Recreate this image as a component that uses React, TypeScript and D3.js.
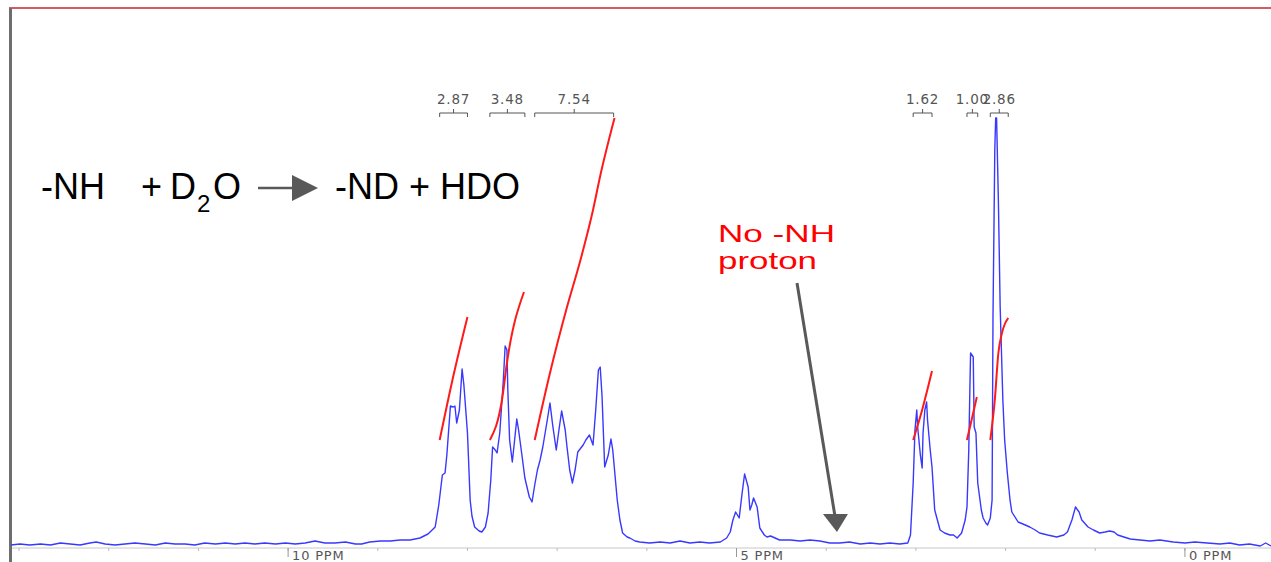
import * as d3 from 'd3';

const WIDTH = 1271;
const HEIGHT = 562;

// proton spectrum: [shift in ppm, intensity]
const spectrum: [number, number][] = [
  [13.09, 1], [12.99, 2], [12.88, 1], [12.76, 2], [12.65, 1], [12.54, 3], [12.43, 2], [12.32, 1],
  [12.21, 3], [12.14, 4], [12.04, 2], [11.93, 1], [11.82, 2], [11.71, 3], [11.59, 2], [11.48, 1],
  [11.37, 3], [11.26, 2], [11.15, 2], [11.04, 1], [10.93, 3], [10.81, 2], [10.7, 3], [10.59, 2],
  [10.48, 3], [10.37, 2], [10.26, 3], [10.14, 2], [10.03, 3], [9.92, 2], [9.81, 3], [9.7, 5],
  [9.59, 3], [9.48, 3], [9.36, 4], [9.25, 2], [9.18, 2], [9.09, 4], [8.97, 5], [8.86, 5],
  [8.75, 6], [8.64, 6], [8.53, 8], [8.44, 12], [8.36, 19],
  [8.32, 41], [8.28, 71], [8.25, 73], [8.23, 91], [8.19, 140], [8.16, 139], [8.14, 140], [8.12, 123],
  [8.09, 136], [8.06, 177], [8.04, 161], [8.0, 113], [7.97, 46], [7.95, 30], [7.92, 19], [7.87, 15],
  [7.84, 14], [7.8, 19], [7.77, 33], [7.74, 66], [7.72, 99], [7.69, 96], [7.67, 93], [7.64, 113],
  [7.6, 166], [7.58, 200], [7.56, 196], [7.55, 156], [7.53, 106], [7.5, 84], [7.48, 101], [7.45, 127],
  [7.43, 116], [7.39, 89], [7.36, 68], [7.31, 49], [7.28, 44], [7.25, 61], [7.22, 76], [7.19, 86],
  [7.16, 99], [7.11, 126], [7.08, 143], [7.05, 121], [7.01, 96], [6.98, 116], [6.95, 135], [6.91, 116],
  [6.89, 99], [6.86, 76], [6.83, 63], [6.8, 76], [6.77, 94], [6.71, 101], [6.68, 106], [6.64, 111],
  [6.62, 106], [6.6, 101], [6.57, 136], [6.54, 176], [6.52, 179], [6.5, 151], [6.47, 79], [6.43, 91],
  [6.4, 107], [6.38, 96], [6.33, 46], [6.3, 26], [6.27, 13], [6.22, 9], [6.19, 8], [6.13, 5],
  [6.08, 4], [5.97, 3], [5.85, 4], [5.74, 3], [5.63, 5], [5.52, 3], [5.41, 4], [5.3, 3],
  [5.18, 4], [5.11, 8], [5.07, 14], [5.04, 26], [5.01, 34], [4.97, 28], [4.94, 51], [4.91, 72],
  [4.87, 59], [4.85, 36], [4.83, 41], [4.81, 48], [4.77, 39], [4.74, 18], [4.69, 11], [4.66, 9],
  [4.62, 10], [4.57, 8], [4.52, 6], [4.4, 6], [4.29, 5], [4.18, 6], [4.07, 5], [3.96, 3],
  [3.85, 3], [3.74, 4], [3.62, 2], [3.51, 3], [3.4, 2], [3.29, 3], [3.18, 2], [3.09, 3],
  [3.06, 11], [3.03, 63], [3.01, 116], [2.99, 136], [2.98, 119], [2.95, 91], [2.93, 78], [2.92, 113],
  [2.9, 136], [2.88, 144], [2.87, 126], [2.84, 96], [2.82, 79], [2.79, 36], [2.73, 16], [2.68, 13],
  [2.62, 11], [2.58, 11], [2.54, 8], [2.49, 13], [2.45, 26], [2.43, 39], [2.41, 96], [2.4, 146],
  [2.39, 193], [2.36, 189], [2.35, 119], [2.33, 113], [2.31, 63], [2.27, 36], [2.25, 28], [2.22, 23],
  [2.2, 21], [2.17, 28], [2.15, 46], [2.14, 229], [2.12, 396], [2.11, 428], [2.1, 428], [2.08, 346],
  [2.06, 239], [2.03, 146], [2.01, 106], [1.98, 73], [1.95, 46], [1.93, 34], [1.86, 24], [1.78, 21],
  [1.73, 19], [1.67, 16], [1.62, 13], [1.53, 11], [1.43, 9], [1.35, 11], [1.31, 14], [1.26, 26],
  [1.22, 39], [1.18, 34], [1.15, 26], [1.08, 19], [1.02, 16], [0.95, 13], [0.89, 14], [0.84, 15],
  [0.79, 14], [0.75, 11], [0.68, 9], [0.61, 7], [0.5, 6], [0.39, 5], [0.28, 6], [0.13, 4],
  [0.0, 3], [-0.11, 4], [-0.25, 3], [-0.39, 2], [-0.5, 3], [-0.61, 1], [-0.72, 2], [-0.84, 0],
  [-0.9, 3], [-0.96, 0],
];

// integral traces (red), same units as the spectrum
const integralCurves: [number, number][][] = [
  [[8.31, 106], [8.16, 169], [8.0, 229]],
  [[7.75, 106], [7.61, 149], [7.56, 183], [7.37, 254]],
  [[7.25, 106], [7.08, 173], [6.89, 239], [6.74, 286], [6.6, 336], [6.52, 370], [6.36, 428]],
  [[3.03, 106], [2.93, 136], [2.82, 175]],
  [[2.43, 106], [2.32, 149]],
  [[2.17, 106], [2.12, 146], [2.08, 193], [2.04, 213], [1.97, 228]],
];
const integralRanges: [number, number][] = [
  [8.31, 8.0], [7.75, 7.36], [7.25, 6.37], [3.03, 2.82], [2.43, 2.31], [2.17, 1.97],
];
const integralValues = ['2.87', '3.48', '7.54', '1.62', '1.00', '2.86'];

const minorTicks = [13, 12, 11, 10, 9, 8, 7, 6, 5, 4, 3, 2, 1, 0];
const majorTicks = [10, 5, 0];
const tickLabels = ['10 PPM', '5 PPM', '0 PPM'];

export default function App() {
  const x = d3.scaleLinear().domain([13.09, -0.96]).range([11, WIDTH]);
  const y = d3.scaleLinear().domain([0, 538]).range([546, 8]);
  const line = d3.line<[number, number]>().x(d => x(d[0])).y(d => y(d[1]));
  const smooth = d3.line<[number, number]>().x(d => x(d[0])).y(d => y(d[1])).curve(d3.curveMonotoneX);

  const axisY = 548;
  const bracketY = 113;
  const tipX = x(3.88);

  return (
    <svg width={WIDTH} height={HEIGHT} style={{ position: 'absolute', left: 0, top: 0 }}
      fontFamily="'DejaVu Sans', sans-serif">
      <rect width={WIDTH} height={HEIGHT} fill="#fff" />
      {/* frame */}
      <line x1={9} x2={WIDTH} y1={8} y2={8} stroke="#c0272d" strokeWidth={1.4} />
      <rect x={9} y={8} width={3} height={HEIGHT - 8} fill="#6e6e6e" />

      {/* axis */}
      <line x1={12} x2={WIDTH} y1={axisY} y2={axisY} stroke="#c8c8c8" strokeWidth={1} />
      {minorTicks.map(t => (
        <line key={t} x1={x(t)} x2={x(t)} y1={axisY} y2={axisY + 3} stroke="#bbb" />
      ))}
      {majorTicks.map((t, i) => (
        <g key={t}>
          <line x1={x(t)} x2={x(t)} y1={axisY} y2={axisY + 9} stroke="#999" />
          <text x={x(t) + 4} y={560} fontSize={13} letterSpacing={0.8} fill="#555">{tickLabels[i]}</text>
        </g>
      ))}

      {/* spectrum */}
      <path d={line(spectrum) ?? ''} fill="none" stroke="#3838ff" strokeWidth={1.4} strokeLinejoin="round" />

      {/* integrals */}
      {integralCurves.map((c, i) => (
        <path key={i} d={smooth(c) ?? ''} fill="none" stroke="#ff1a1a" strokeWidth={2} />
      ))}
      {integralRanges.map((r, i) => {
        const x0 = x(r[0]);
        const x1 = x(r[1]);
        const xm = (x0 + x1) / 2;
        return (
          <g key={i} stroke="#555" strokeWidth={1} fill="none">
            <path d={`M${x0},${bracketY + 4}V${bracketY}H${x1}V${bracketY + 4}M${xm},${bracketY}V${bracketY - 4}`} />
            <text x={xm} y={104} fontSize={13.5} letterSpacing={0.8} fill="#555" stroke="none" textAnchor="middle">
              {integralValues[i]}
            </text>
          </g>
        );
      })}

      {/* reaction */}
      <g fontFamily="'Liberation Sans', Arial, sans-serif" fontSize={36} fill="#000">
        <text x={41} y={199}>-NH</text>
        <text x={141} y={199}>+</text>
        <text x={170} y={199}>D</text>
        <text x={197} y={212} fontSize={24}>2</text>
        <text x={213} y={199}>O</text>
        <text x={335} y={199}>-ND + HDO</text>
      </g>
      <line x1={258} x2={294} y1={188} y2={188} stroke="#595959" strokeWidth={2.5} />
      <polygon points="292,175 318,188 292,201" fill="#595959" />

      {/* annotation */}
      <g fontFamily="'Liberation Sans', Arial, sans-serif" fontSize={24} fill="#ff0000">
        <text x={718} y={242} textLength={117} lengthAdjust="spacingAndGlyphs">No -NH</text>
        <text x={718} y={269} textLength={99} lengthAdjust="spacingAndGlyphs">proton</text>
      </g>
      <line x1={797} y1={283} x2={tipX - 2} y2={516} stroke="#595959" strokeWidth={3} />
      <polygon points={`${tipX - 14},514 ${tipX + 11},514 ${tipX},532`} fill="#595959" />
    </svg>
  );
}
